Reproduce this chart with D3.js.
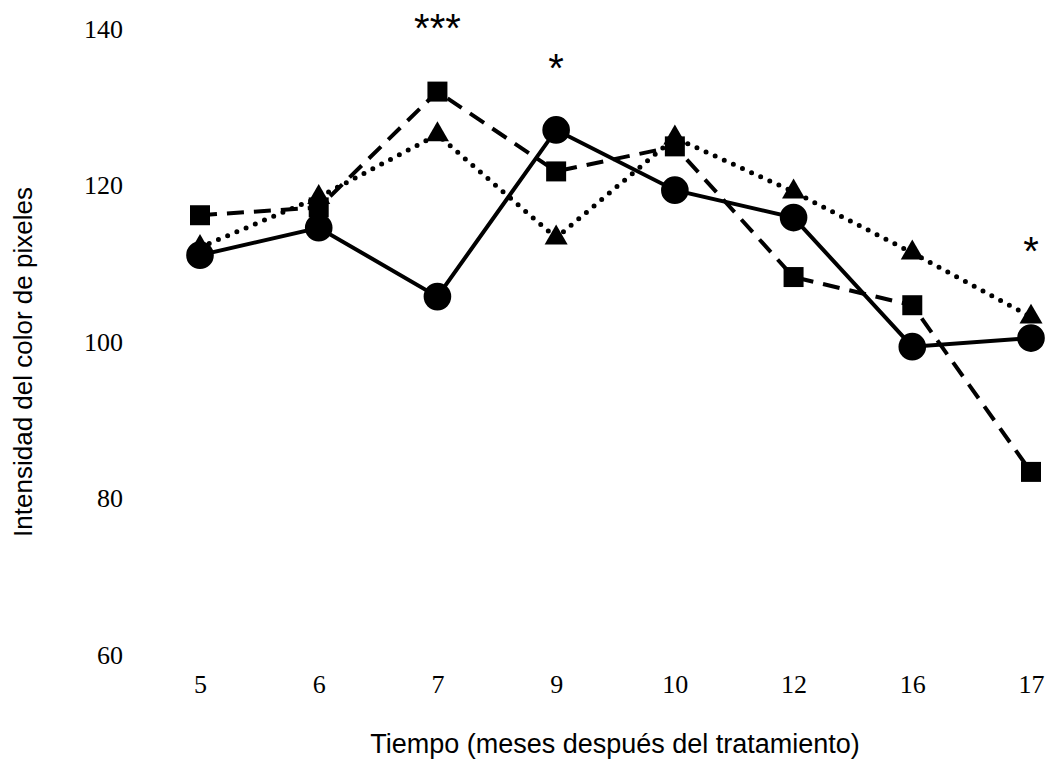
<!DOCTYPE html>
<html>
<head>
<meta charset="utf-8">
<script src="https://cdn.jsdelivr.net/npm/d3@7"></script>
<style>
  body { margin: 0; background: #fff; }
  #dataviz { width: 1051px; height: 759px; }
</style>
</head>
<body>
<div id="dataviz"></div>
<script>
// months after treatment (category axis)
var meses = ["5", "6", "7", "9", "10", "12", "16", "17"];
var yTicks = [60, 80, 100, 120, 140];

// pixel colour intensity for the three treatments
var circulos   = [111.1, 114.6, 105.8, 127.1, 119.4, 115.9, 99.4, 100.5];
var cuadrados  = [116.2, 117.2, 132.0, 121.8, 125.0, 108.3, 104.7, 83.4];
var triangulos = [112.1, 118.5, 126.5, 113.3, 126.1, 119.2, 111.4, 103.2];

// significance marks
var marcas = [
    {mes: "7", texto: "***", valor: 141.2},
    {mes: "9", texto: "*", valor: 136.0},
    {mes: "17", texto: "*", valor: 112.7}
];

var width = 1051, height = 759;

var svg = d3.select("#dataviz")
.append("svg")
    .attr("width", width)
    .attr("height", height);

var x = d3.scalePoint()
    .domain(meses)
    .range([200, 1031]);

var y = d3.scaleLinear()
    .domain([60, 140])
    .range([655, 29]);

// y axis: labels only
var yAxis = svg.append("g")
    .attr("transform", "translate(123,0)")
    .call(d3.axisLeft(y).tickValues(yTicks).tickSize(0).tickPadding(0));
yAxis.select(".domain").remove();
yAxis.selectAll("text")
    .style("font-family", "'Liberation Serif', 'Times New Roman', serif")
    .style("font-size", "26px")
    .attr("fill", "#000");

// x axis: labels only
var xAxis = svg.append("g")
    .attr("transform", "translate(0,675)")
    .call(d3.axisBottom(x).tickSize(0).tickPadding(0));
xAxis.select(".domain").remove();
xAxis.selectAll("text")
    .style("font-family", "'Liberation Serif', 'Times New Roman', serif")
    .style("font-size", "26px")
    .attr("fill", "#000");

var series = [
    {nombre: "circulos", valores: circulos, dash: null, cap: "butt", forma: d3.symbolCircle, area: 600},
    {nombre: "cuadrados", valores: cuadrados, dash: "17,10", cap: "butt", forma: d3.symbolSquare, area: 400},
    {nombre: "triangulos", valores: triangulos, dash: "0,10", cap: "round", forma: d3.symbolTriangle, area: 230}
];

var line = d3.line()
    .x(function(d, i) { return x(meses[i]); })
    .y(function(d) { return y(d); });

// lines first, markers on top
series.forEach(function(s) {
    svg.append("path")
        .datum(s.valores)
        .attr("fill", "none")
        .attr("stroke", "#000")
        .attr("stroke-width", s.nombre == "triangulos" ? 5 : 4)
        .attr("stroke-linecap", s.cap)
        .attr("stroke-dasharray", s.dash)
        .attr("d", line);
});

series.forEach(function(s) {
    svg.selectAll(".m-" + s.nombre)
        .data(s.valores)
        .enter()
        .append("path")
            .attr("class", "m-" + s.nombre)
            .attr("transform", function(d, i) {
                return "translate(" + x(meses[i]) + "," + y(d) + ")";
            })
            .attr("d", d3.symbol().type(s.forma).size(s.area))
            .attr("fill", "#000");
});

// asterisks
svg.selectAll(".marca")
    .data(marcas)
    .enter()
    .append("text")
        .attr("class", "marca")
        .attr("x", function(d) { return x(d.mes); })
        .attr("y", function(d) { return y(d.valor) + 22; })
        .attr("text-anchor", "middle")
        .style("font-family", "'Liberation Sans', Arial, sans-serif")
        .style("font-size", "40px")
        .text(function(d) { return d.texto; });

// axis titles
svg.append("text")
    .attr("x", 615)
    .attr("y", 753)
    .attr("text-anchor", "middle")
    .style("font-family", "'Liberation Sans', Arial, sans-serif")
    .style("font-size", "27px")
    .text("Tiempo (meses después del tratamiento)");

svg.append("text")
    .attr("transform", "translate(32,362) rotate(-90)")
    .attr("text-anchor", "middle")
    .style("font-family", "'Liberation Sans', Arial, sans-serif")
    .style("font-size", "26px")
    .text("Intensidad del color de pixeles");
</script>
</body>
</html>
